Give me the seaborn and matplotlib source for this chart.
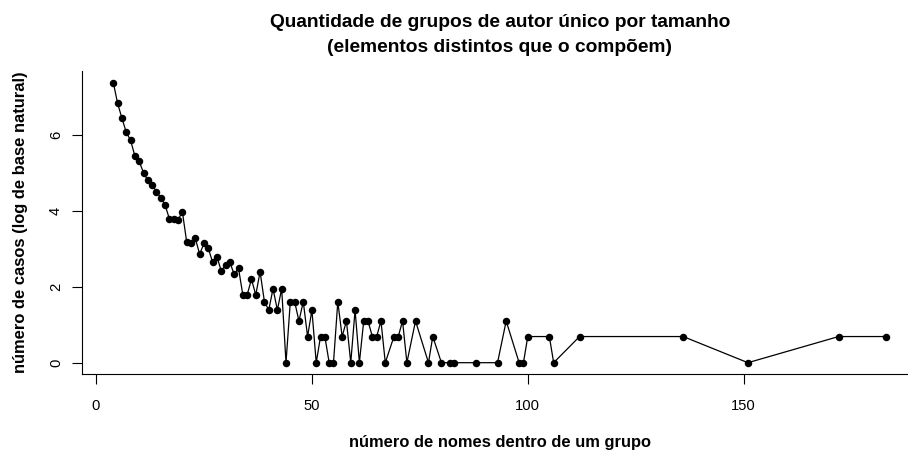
import numpy as np
import pandas as pd
import matplotlib
matplotlib.use("Agg")
import matplotlib.pyplot as plt
import seaborn as sns

# ---- data ----
group_size = [4, 5, 6, 7, 8, 9, 10, 11, 12, 13, 14, 15, 16, 17, 18, 19, 20,
              21, 22, 23, 24, 25, 26, 27, 28, 29, 30, 31, 32, 33, 34, 35, 36,
              37, 38, 39, 40, 41, 42, 43, 44, 45, 46, 47, 48, 49, 50, 51, 52,
              53, 54, 55, 56, 57, 58, 59, 60, 61, 62, 63, 64, 65, 66, 67, 69,
              70, 71, 72, 74, 77, 78, 80, 82, 83, 88, 93, 95, 98, 99, 100, 105,
              106, 112, 136, 151, 172, 183]
log_cases = [7.39, 6.84, 6.45, 6.08, 5.87, 5.45, 5.31, 5.01, 4.81, 4.69, 4.51,
             4.35, 4.16, 3.79, 3.79, 3.77, 3.98,
             3.18, 3.15, 3.28, 2.86, 3.15, 3.02, 2.65, 2.80, 2.42, 2.58, 2.65,
             2.33, 2.49, 1.79, 1.79, 2.20,
             1.79, 2.40, 1.61, 1.39, 1.95, 1.39, 1.95, 0.00, 1.61, 1.61, 1.10,
             1.61, 0.69, 1.39, 0.00, 0.69,
             0.69, 0.00, 0.00, 1.61, 0.69, 1.10, 0.00, 1.39, 0.00, 1.10, 1.10,
             0.69, 0.69, 1.10, 0.00, 0.69,
             0.69, 1.10, 0.00, 1.10, 0.00, 0.69, 0.00, 0.00, 0.00, 0.00, 0.00,
             1.10, 0.00, 0.00, 0.69, 0.69,
             0.00, 0.69, 0.69, 0.00, 0.69, 0.69]
x_ticks = [0, 50, 100, 150]
y_ticks = [0, 2, 4, 6]
title_line1 = "Quantidade de grupos de autor único por tamanho"
title_line2 = "(elementos distintos que o compõem)"
x_label = "número de nomes dentro de um grupo"
y_label = "número de casos (log de base natural)"

df = pd.DataFrame({"x": group_size, "y": log_cases})

sns.set_style("ticks")
plt.rcParams["font.family"] = ["Liberation Sans", "DejaVu Sans"]
plt.rcParams["text.color"] = "black"
plt.rcParams["axes.labelcolor"] = "black"

W, H = 908, 450
fig = plt.figure(figsize=(W / 100, H / 100), dpi=100)
# plot region in pixels (R-style 4% padding on the data range)
left_px, right_px, top_px, bottom_px = 82.4, 917.0, 71.4, 373.9
ax = fig.add_axes([left_px / W, 1 - bottom_px / H,
                   (right_px - left_px) / W, (bottom_px - top_px) / H])

sns.lineplot(data=df, x="x", y="y", ax=ax, color="black", linewidth=0.9,
             marker="o", markersize=5.4, markeredgewidth=0, sort=False,
             errorbar=None)

xr = max(group_size) - min(group_size)
yr = max(log_cases) - min(log_cases)
ax.set_xlim(min(group_size) - 0.04 * xr, max(group_size) + 0.04 * xr)
ax.set_ylim(min(log_cases) - 0.04 * yr, max(log_cases) + 0.04 * yr)

ax.set_xticks(x_ticks)
ax.set_yticks(y_ticks)
ax.set_yticklabels([str(v) for v in y_ticks], rotation=90, va="center")
ax.tick_params(axis="both", direction="out", length=7, width=0.8,
               colors="black", labelsize=10.6, labelcolor="black")
ax.tick_params(axis="x", pad=11.0)
ax.tick_params(axis="y", pad=7.0)

for s in ["top", "right"]:
    ax.spines[s].set_visible(False)
for s in ["left", "bottom"]:
    ax.spines[s].set_linewidth(0.8)
    ax.spines[s].set_color("black")

ax.set_xlabel(x_label, fontsize=11.9, fontweight="bold", color="black")
ax.set_ylabel(y_label, fontsize=11.9, fontweight="bold", color="black")
ax.xaxis.set_label_coords(0.5, (bottom_px - 443) / (bottom_px - top_px))
ax.xaxis.label.set_va("center")
ax.yaxis.set_label_coords((20.5 - left_px) / (right_px - left_px), 0.5)
ax.yaxis.label.set_va("center")

cx = (left_px + right_px) / 2 / W
fig.text(cx, 1 - 22.5 / H, title_line1, ha="center", va="center",
         fontsize=13.8, fontweight="bold", color="black")
fig.text(cx, 1 - 47.5 / H, title_line2, ha="center", va="center",
         fontsize=13.8, fontweight="bold", color="black")

fig.savefig("out.png", dpi=100)
